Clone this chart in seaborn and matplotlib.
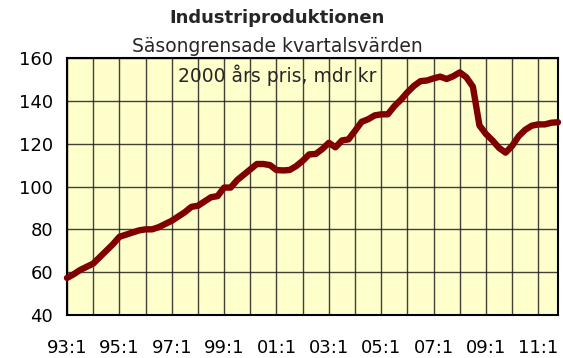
import matplotlib
matplotlib.use("Agg")
import matplotlib.pyplot as plt
import seaborn as sns
import pandas as pd
import numpy as np

# Quarterly industrial production, 1993:1 - 2011:4 (seasonally adjusted, 2000 prices, bn SEK)
years = [f"{y % 100:02d}" for y in range(1993, 2012)]
quarters = [f"{y}:{q}" for y in years for q in range(1, 5)]
production = [
    57.3, 59.0, 61.0, 62.5, 64.0, 67.0, 70.0, 73.0,
    76.5, 77.5, 78.5, 79.5, 80.0, 80.0, 81.0, 82.5,
    84.0, 86.0, 88.0, 90.5, 91.0, 93.0, 95.0, 95.5,
    99.5, 99.5, 103.0, 105.5, 108.0, 110.5, 110.5, 110.0,
    107.7, 107.5, 107.7, 109.5, 112.0, 115.0, 115.2, 117.5,
    120.4, 118.3, 121.5, 122.0, 126.0, 130.2, 131.4, 133.2,
    133.7, 133.7, 137.5, 140.5, 144.0, 147.0, 149.2, 149.5,
    150.5, 151.3, 150.2, 151.5, 153.3, 151.0, 146.6, 128.5,
    124.5, 121.5, 118.0, 115.8, 119.0, 123.5, 126.5, 128.4,
    129.0, 129.0, 129.8, 130.0,
]
tick_labels = ["93:1", "95:1", "97:1", "99:1", "01:1", "03:1",
               "05:1", "07:1", "09:1", "11:1"]
y_ticks = [40, 60, 80, 100, 120, 140, 160]

df = pd.DataFrame({"kvartal": quarters, "pos": np.arange(len(quarters)),
                   "varde": production})

sns.set_style("white")
plt.rcParams["font.family"] = ["DejaVu Sans"]

fig = plt.figure(figsize=(5.63, 3.58), dpi=100)
ax = fig.add_axes([67 / 563, 1 - 315 / 358, (558 - 67) / 563, (315 - 58) / 358])
ax.set_facecolor("#FFFFCC")

sns.lineplot(data=df, x="pos", y="varde", ax=ax, color="#800000",
             linewidth=4.6, solid_joinstyle="round", solid_capstyle="round",
             zorder=3, clip_on=False)

n = len(quarters)
ax.set_xlim(0, n - 1)
ax.set_ylim(y_ticks[0], y_ticks[-1])

# one tick per year, label every second year
year_pos = np.arange(0, n, 4)
ax.set_xticks(year_pos)
labels = []
for k in range(len(year_pos)):
    labels.append(tick_labels[k // 2] if k % 2 == 0 else "")
ax.set_xticklabels(labels)
ax.set_yticks(y_ticks)

ax.grid(True, which="major", color="#202020", linewidth=1.0, alpha=0.85)
ax.set_axisbelow(True)
ax.tick_params(axis="both", direction="out", length=5, width=1.2,
               color="black", labelsize=13, labelcolor="black")
ax.tick_params(axis="x", pad=12)
ax.tick_params(axis="y", pad=5)
for s in ax.spines.values():
    s.set_visible(True)
    s.set_color("black")
    s.set_linewidth(1.5)
ax.set_xlabel("")
ax.set_ylabel("")

fig.text(277 / 563, 1 - 18 / 358, "Industriproduktionen", ha="center",
         va="center", fontsize=13, fontweight="bold")
fig.text(277 / 563, 1 - 47 / 358, "Säsongrensade kvartalsvärden", ha="center",
         va="center", fontsize=13.5)
fig.text(277 / 563, 1 - 75 / 358, "2000 års pris, mdr kr", ha="center",
         va="center", fontsize=13.5, zorder=5)

fig.savefig("out.png", dpi=100, facecolor="white")
